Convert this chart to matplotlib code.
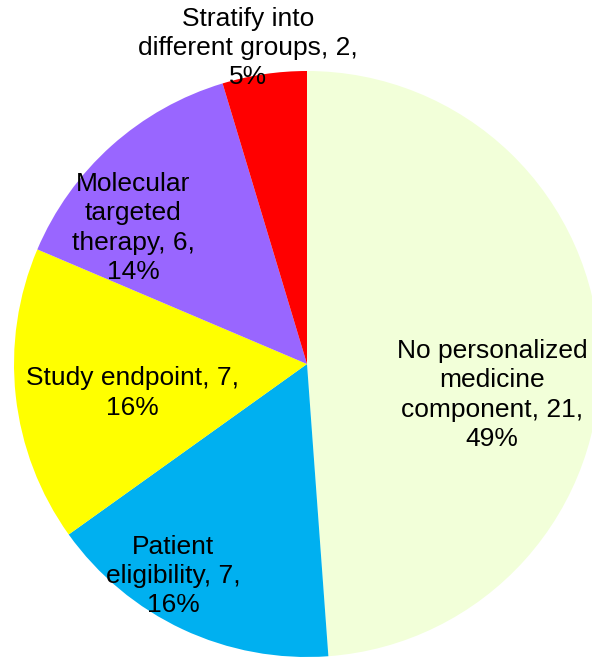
import matplotlib
matplotlib.use("Agg")
import matplotlib.pyplot as plt

# slice data (clockwise from 12 o'clock)
categories = ["No personalized\nmedicine\ncomponent", "Patient\neligibility",
              "Study endpoint", "Molecular\ntargeted\ntherapy",
              "Stratify into\ndifferent groups"]
counts = [21, 7, 7, 6, 2]
percents = [49, 16, 16, 14, 5]
colors = ["#F2FFD9", "#00B0F0", "#FFFF00", "#9966FF", "#FF0000"]

# label text lines (how the text wraps in the original)
label_texts = [
    "No personalized\nmedicine\ncomponent, 21,\n49%",
    "Patient\neligibility, 7,\n16%",
    "Study endpoint, 7,\n16%",
    "Molecular\ntargeted\ntherapy, 6,\n14%",
    "Stratify into\ndifferent groups, 2,\n5%",
]
# label centres in pixel coords (x from left, y from top)
label_pos = [(492, 395), (173, 576), (132, 393), (133, 228), (248, 48)]

W, H = 592, 657
fig = plt.figure(figsize=(W / 100, H / 100), dpi=100)
ax = fig.add_axes([0, 0, 1, 1])

cx, cy, r = 307, H - 364, 293
ax.pie(counts, colors=colors, startangle=90, counterclock=False,
       center=(cx, cy), radius=r, frame=True,
       wedgeprops=dict(linewidth=0))
ax.set_xlim(0, W)
ax.set_ylim(0, H)
ax.set_aspect("equal")
ax.axis("off")

for txt, (x, y) in zip(label_texts, label_pos):
    ax.text(x, H - y, txt, ha="center", va="center", fontsize=19,
            family="Liberation Sans", linespacing=1.27, color="black")

fig.savefig("out.png", dpi=100)
